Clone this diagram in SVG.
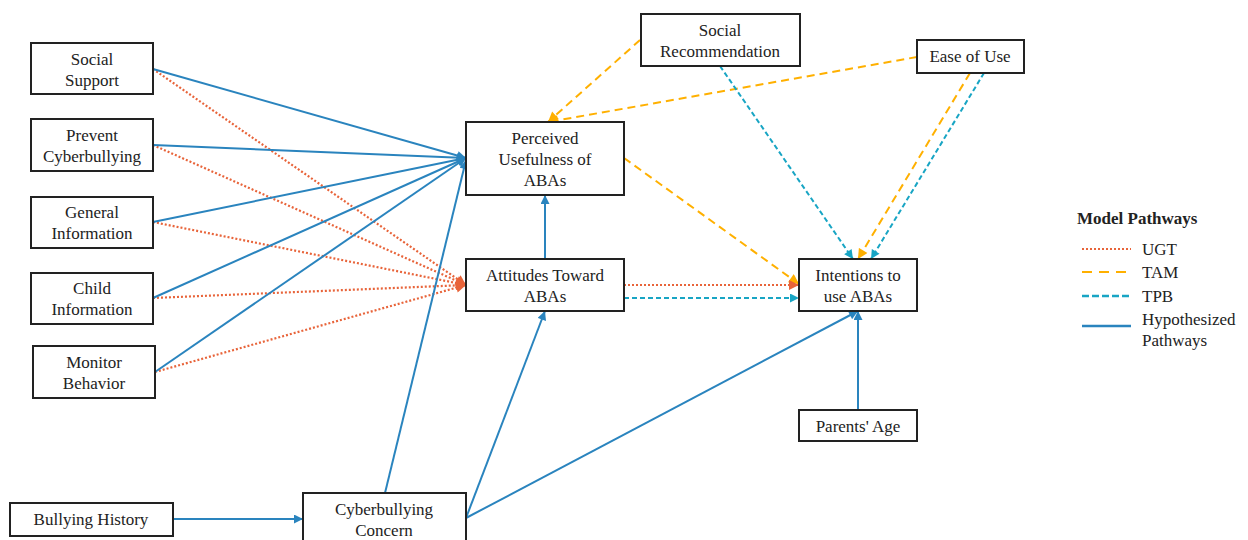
<svg xmlns="http://www.w3.org/2000/svg" width="1248" height="540" viewBox="0 0 1248 540" font-family="'Liberation Serif', 'DejaVu Serif', serif">
<style>
.box{fill:#fff;stroke:#222;stroke-width:2}
text{font-family:'Liberation Serif','DejaVu Serif',serif;font-size:17px;fill:#222;text-anchor:middle}
.lg{text-anchor:start}
.blue{stroke:#2A84BE;stroke-width:2;fill:none}
.ugt{stroke:#E8643A;stroke-width:2.2;fill:none;stroke-dasharray:2 2}
.tam{stroke:#FFB000;stroke-width:2;fill:none;stroke-dasharray:8 5}
.tpb{stroke:#18A5C4;stroke-width:2;fill:none;stroke-dasharray:5 3}
</style>
<defs>
<marker id="ab" viewBox="0 0 10 10" refX="10" refY="5" markerWidth="10" markerHeight="9" markerUnits="userSpaceOnUse" orient="auto"><path d="M0,0 L10,5 L0,10 z" fill="#2A84BE"/></marker>
<marker id="ao" viewBox="0 0 10 10" refX="10" refY="5" markerWidth="11" markerHeight="10" markerUnits="userSpaceOnUse" orient="auto"><path d="M0,0 L10,5 L0,10 z" fill="#FFB000"/></marker>
<marker id="ar" viewBox="0 0 10 10" refX="10" refY="5" markerWidth="11" markerHeight="10" markerUnits="userSpaceOnUse" orient="auto"><path d="M0,0 L10,5 L0,10 z" fill="#E8643A"/></marker>
<marker id="at" viewBox="0 0 10 10" refX="10" refY="5" markerWidth="10" markerHeight="9" markerUnits="userSpaceOnUse" orient="auto"><path d="M0,0 L10,5 L0,10 z" fill="#18A5C4"/></marker>
</defs>
<g id="connectors">
<line class="ugt" x1="153" y1="69" x2="466" y2="285" marker-end="url(#ar)"/>
<line class="ugt" x1="153" y1="145" x2="466" y2="285" marker-end="url(#ar)"/>
<line class="ugt" x1="153" y1="222" x2="466" y2="285" marker-end="url(#ar)"/>
<line class="ugt" x1="153" y1="298" x2="466" y2="285" marker-end="url(#ar)"/>
<line class="ugt" x1="155" y1="372" x2="466" y2="285" marker-end="url(#ar)"/>
<line class="blue" x1="153" y1="69" x2="466" y2="158" marker-end="url(#ab)"/>
<line class="blue" x1="153" y1="145" x2="466" y2="158" marker-end="url(#ab)"/>
<line class="blue" x1="153" y1="222" x2="466" y2="158" marker-end="url(#ab)"/>
<line class="blue" x1="153" y1="298" x2="466" y2="158" marker-end="url(#ab)"/>
<line class="blue" x1="155" y1="372" x2="466" y2="158" marker-end="url(#ab)"/>
<line class="blue" x1="385" y1="493" x2="466" y2="160" marker-end="url(#ab)"/>
<line class="blue" x1="545" y1="259" x2="545" y2="195" marker-end="url(#ab)"/>
<line class="blue" x1="466" y1="518" x2="545" y2="311" marker-end="url(#ab)"/>
<line class="blue" x1="466" y1="518" x2="858" y2="311" marker-end="url(#ab)"/>
<line class="blue" x1="858" y1="410" x2="858" y2="311" marker-end="url(#ab)"/>
<line class="blue" x1="173" y1="519" x2="303" y2="519" marker-end="url(#ab)"/>
<line class="tam" x1="640" y1="40" x2="548" y2="122" marker-end="url(#ao)"/>
<line class="tam" x1="917" y1="57" x2="548" y2="122" marker-end="url(#ao)"/>
<line class="tam" x1="624" y1="158" x2="799" y2="284" marker-end="url(#ao)"/>
<line class="tam" x1="970" y1="73" x2="858" y2="259" marker-end="url(#ao)"/>
<line class="tpb" x1="720" y1="66" x2="853" y2="259" marker-end="url(#at)"/>
<line class="tpb" x1="984" y1="73" x2="871" y2="259" marker-end="url(#at)"/>
<line class="ugt" x1="624" y1="285" x2="799" y2="285" marker-end="url(#ar)"/>
<line class="tpb" x1="624" y1="298" x2="799" y2="298" marker-end="url(#at)"/>
</g>
<g id="social-support"><rect class="box" x="31" y="43" width="122" height="51"/><text x="92" y="65">Social</text><text x="92" y="86">Support</text></g>
<g id="prevent-cyberbullying"><rect class="box" x="31" y="119" width="122" height="52"/><text x="92" y="141">Prevent</text><text x="92" y="162">Cyberbullying</text></g>
<g id="general-information"><rect class="box" x="31" y="197" width="122" height="51"/><text x="92" y="218">General</text><text x="92" y="239">Information</text></g>
<g id="child-information"><rect class="box" x="31" y="273" width="122" height="51"/><text x="92" y="294">Child</text><text x="92" y="315">Information</text></g>
<g id="monitor-behavior"><rect class="box" x="33" y="346" width="122" height="52"/><text x="94" y="368">Monitor</text><text x="94" y="389">Behavior</text></g>
<g id="bullying-history"><rect class="box" x="10" y="503" width="163" height="33"/><text x="91" y="525">Bullying History</text></g>
<g id="cyberbullying-concern"><rect class="box" x="303" y="493" width="163" height="52"/><text x="384" y="515">Cyberbullying</text><text x="384" y="536">Concern</text></g>
<g id="social-recommendation"><rect class="box" x="641" y="14" width="159" height="52"/><text x="720" y="36">Social</text><text x="720" y="57">Recommendation</text></g>
<g id="ease-of-use"><rect class="box" x="917" y="40" width="107" height="33"/><text x="970" y="62">Ease of Use</text></g>
<g id="perceived-usefulness"><rect class="box" x="466" y="122" width="158" height="73"/><text x="545" y="144">Perceived</text><text x="545" y="165">Usefulness of</text><text x="545" y="186">ABAs</text></g>
<g id="attitudes"><rect class="box" x="466" y="259" width="158" height="52"/><text x="545" y="281">Attitudes Toward</text><text x="545" y="302">ABAs</text></g>
<g id="intentions"><rect class="box" x="799" y="259" width="118" height="52"/><text x="858" y="281">Intentions to</text><text x="858" y="302">use ABAs</text></g>
<g id="parents-age"><rect class="box" x="799" y="410" width="118" height="31"/><text x="858" y="432">Parents' Age</text></g>
<g id="legend">
<text class="lg" x="1077" y="224" style="font-weight:bold">Model Pathways</text>
<line class="ugt" x1="1082" y1="249" x2="1131" y2="249"/>
<text class="lg" x="1142" y="255">UGT</text>
<line class="tam" x1="1082" y1="272" x2="1131" y2="272" style="stroke-dasharray:10 7"/>
<text class="lg" x="1142" y="278">TAM</text>
<line class="tpb" x1="1082" y1="296" x2="1131" y2="296" style="stroke-dasharray:7 3;stroke-width:2.5"/>
<text class="lg" x="1142" y="302">TPB</text>
<line class="blue" x1="1082" y1="326" x2="1131" y2="326" style="stroke-width:2.5"/>
<text class="lg" x="1142" y="325">Hypothesized</text>
<text class="lg" x="1142" y="346">Pathways</text>
</g>
</svg>
